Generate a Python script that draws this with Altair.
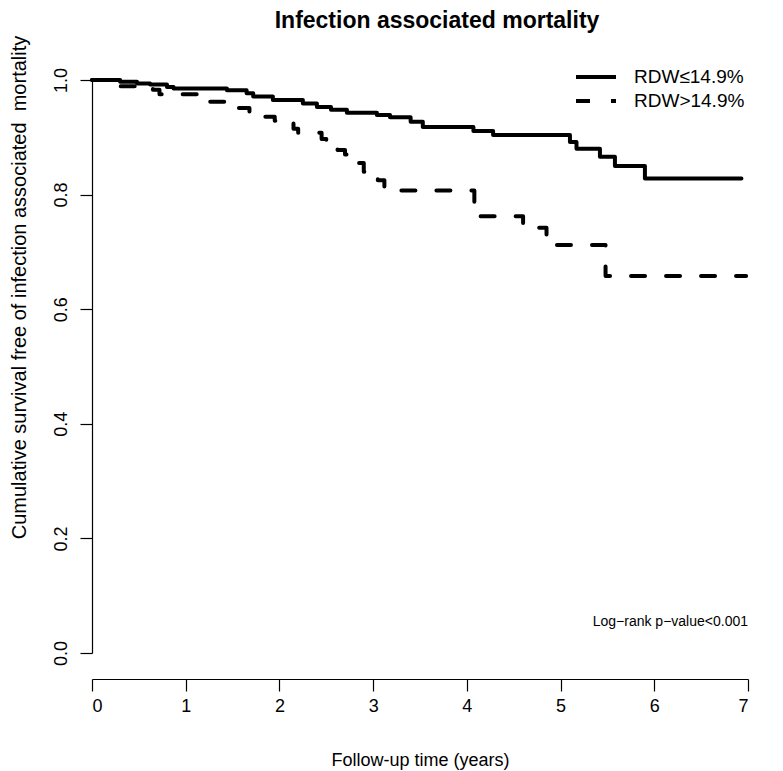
import altair as alt
import pandas as pd

groups = ["RDW≤14.9%", "RDW>14.9%"]

low_time = [0, 0.30, 0.48, 0.62, 0.80, 0.87, 1.44, 1.65, 1.72, 1.93, 2.25, 2.40, 2.55, 2.72,
            3.04, 3.18, 3.40, 3.53, 4.07, 4.28, 5.10, 5.17, 5.42, 5.58, 5.90, 6.93]
low_surv = [1.0, 0.997, 0.994, 0.992, 0.988, 0.985, 0.982, 0.977, 0.971, 0.965, 0.959, 0.953, 0.948, 0.943,
            0.939, 0.935, 0.927, 0.918, 0.911, 0.904, 0.892, 0.880, 0.866, 0.850, 0.828, 0.828]

high_time = [0, 0.30, 0.65, 0.72, 1.20, 1.55, 1.68, 1.85, 1.95, 2.15, 2.20, 2.45, 2.50, 2.62, 2.70,
             2.85, 2.90, 3.05, 3.12, 4.08, 4.60, 4.85, 4.92, 5.48, 6.98]
high_surv = [1.0, 0.989, 0.983, 0.975, 0.962, 0.951, 0.945, 0.936, 0.929, 0.915, 0.908, 0.897, 0.890, 0.878, 0.870,
             0.855, 0.840, 0.825, 0.807, 0.762, 0.742, 0.728, 0.712, 0.658, 0.658]

x_ticks = [0, 1, 2, 3, 4, 5, 6, 7]
y_ticks = [0.0, 0.2, 0.4, 0.6, 0.8, 1.0]

title_text = "Infection associated mortality"
x_title = "Follow-up time (years)"
y_title = "Cumulative survival free of infection associated\u00a0 mortality"
annotation = "Log\u2212rank p\u2212value<0.001"

rows = []
for i, (t, s) in enumerate(zip(low_time, low_surv)):
    rows.append({"group": groups[0], "time": t, "surv": s, "order": i})
for i, (t, s) in enumerate(zip(high_time, high_surv)):
    rows.append({"group": groups[1], "time": t, "surv": s, "order": i})
df = pd.DataFrame(rows)

W, H = 656, 573
FONT = "Liberation Sans"

x_enc = alt.X(
    "time:Q",
    scale=alt.Scale(domain=[0, 7], nice=False, zero=False),
    axis=alt.Axis(
        values=x_ticks, format="d", title=x_title, offset=26, tickSize=12,
        labelPadding=6, titlePadding=36, grid=False,
        domainColor="black", tickColor="black", domainWidth=1.2, tickWidth=1.2,
        labelFontSize=18, titleFontSize=18, titleFontWeight="normal",
        labelColor="black", titleColor="black", labelFont=FONT, titleFont=FONT,
    ),
)
y_enc = alt.Y(
    "surv:Q",
    scale=alt.Scale(domain=[0, 1], nice=False, zero=False),
    axis=alt.Axis(
        values=y_ticks, format=".1f", title=y_title, tickSize=12,
        labelAngle=270, labelAlign="center", labelBaseline="bottom", labelPadding=10,
        titleX=-73, titleY=207, titleBaseline="middle", grid=False,
        domainColor="black", tickColor="black", domainWidth=1.2, tickWidth=1.2,
        labelFontSize=18, titleFontSize=20, titleFontWeight="normal",
        labelColor="black", titleColor="black", labelFont=FONT, titleFont=FONT,
    ),
)

lines = alt.Chart(df).mark_line(
    interpolate="step-after", color="black", strokeWidth=4, strokeCap="round", strokeJoin="round"
).encode(
    x=x_enc,
    y=y_enc,
    order="order:Q",
    strokeDash=alt.StrokeDash(
        "group:N",
        scale=alt.Scale(domain=groups, range=[[1, 0], [14, 21]]),
        legend=alt.Legend(
            title=None, orient="none", legendX=494, legendY=-13,
            symbolType="M-2.5,0H2.5", symbolSize=256, symbolStrokeWidth=4,
            symbolStrokeColor="black", symbolFillColor="transparent",
            labelFontSize=19, labelFont=FONT, labelColor="black", labelOffset=28,
            rowPadding=4,
        ),
    ),
)

note = alt.Chart(pd.DataFrame({"label": [annotation]})).mark_text(
    align="right", baseline="middle", fontSize=14, font=FONT, color="black"
).encode(
    x=alt.value(W), y=alt.value(542), text="label:N"
)

chart = alt.layer(lines, note).properties(
    width=W, height=H,
    title=alt.TitleParams(title_text, fontSize=23, font=FONT, fontWeight="bold",
                          anchor="middle", dx=17, offset=2, color="black"),
    autosize="none",
    padding={"left": 84, "top": 72, "right": 27, "bottom": 117},
).configure_view(stroke=None)

chart.save("out.html", embed_options={"renderer": "svg", "actions": False})
